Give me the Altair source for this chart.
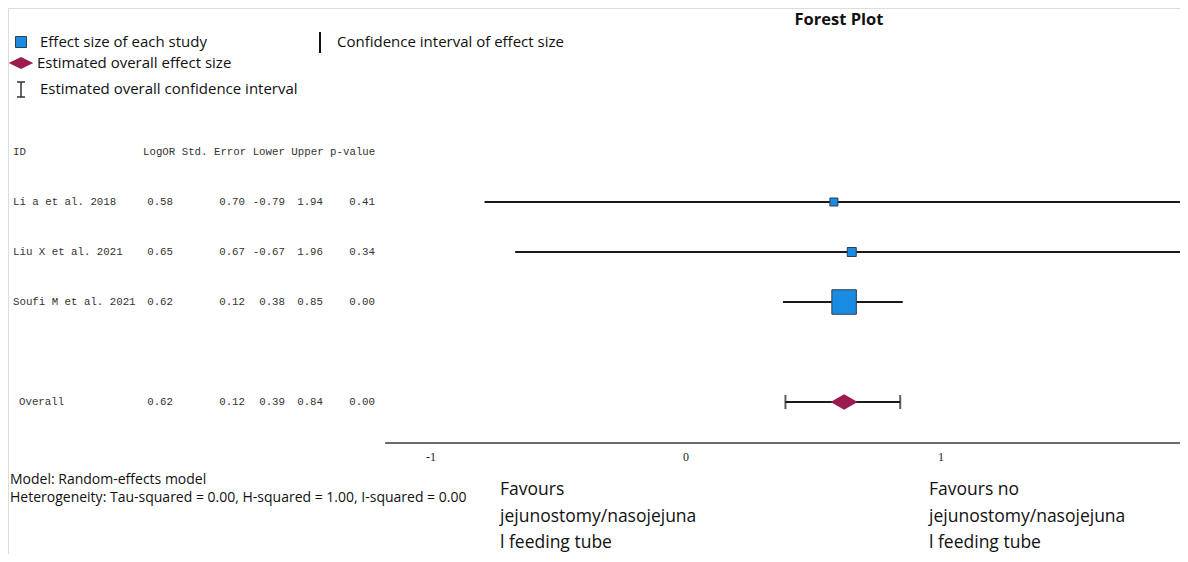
import altair as alt
import pandas as pd

# ---------------- data ----------------
study_ids = ["Li a et al. 2018", "Liu X et al. 2021", "Soufi M et al. 2021"]
log_or = [0.58, 0.65, 0.62]
std_err = [0.70, 0.67, 0.12]
ci_lower = [-0.79, -0.67, 0.38]
ci_upper = [1.94, 1.96, 0.85]
p_values = [0.41, 0.34, 0.00]
study_weight = [64, 81, 600]          # relative marker weight (area) as drawn

overall_label = ["Overall"]
overall_est = [0.62]
overall_se = [0.12]
overall_lower = [0.39]
overall_upper = [0.84]
overall_p = [0.00]

axis_ticks = [-1, 0, 1]
axis_extent = [-1.18, 1.98]

header_text = "LogOR Std. Error Lower Upper p-value"
model_text = "Model: Random-effects model"
hetero_text = "Heterogeneity: Tau-squared = 0.00, H-squared = 1.00, I-squared = 0.00"
favours_left = "Favours\njejunostomy/nasojejuna\nl feeding tube"
favours_right = "Favours no\njejunostomy/nasojejuna\nl feeding tube"

# ---------------- layout / styles ----------------
W, H = 1172, 546
X_SCALE = alt.Scale(domain=[-678 / 255, (W - 678) / 255], nice=False, zero=False)
Y_SCALE = alt.Scale(domain=[-2.88, -2.88 + H / 50], nice=False, zero=False, reverse=True)
MONO = "Liberation Mono"
SANS = "Open Sans"
BLUE = "#1a8be3"
MAROON = "#9b1a50"
SQUARE = "M-1,-1L1,-1L1,1L-1,1Z"
DIAMOND = "M-1,0L0,-0.58L1,0L0,0.58Z"
DIAMOND_LEG = "M-1,0L0,-0.48L1,0L0,0.48Z"

studies = pd.DataFrame({
    "id": study_ids, "est": log_or, "se": std_err, "lo": ci_lower,
    "hi": ci_upper, "p": p_values, "w": study_weight,
    "row": [1, 2, 3],
})
overall = pd.DataFrame({
    "id": overall_label, "est": overall_est, "se": overall_se,
    "lo": overall_lower, "hi": overall_upper, "p": overall_p, "row": [5],
})
table = pd.concat([studies, overall], ignore_index=True)
for col in ["est", "se", "lo", "hi", "p"]:
    table[col + "_s"] = table[col].map(lambda v: f"{v:.2f}")

caps = pd.DataFrame({"x": overall_lower + overall_upper, "row": [5, 5]})
ticks = pd.DataFrame({"t": axis_ticks, "lab": [str(t) for t in axis_ticks]})
one = pd.DataFrame({"k": [0]})

xq = lambda f: alt.X(f, type="quantitative", scale=X_SCALE, axis=None)
yq = alt.Y("row:Q", scale=Y_SCALE, axis=None)

# ---------------- forest marks ----------------
ci = alt.Chart(studies).mark_rule(strokeWidth=2.2, color="#1a1a1a").encode(
    x=xq("lo"), x2="hi", y=yq)
boxes = alt.Chart(studies).mark_point(
    shape=SQUARE, filled=True, fill=BLUE, stroke="#2c3e50", strokeWidth=1, opacity=1
).encode(x=xq("est"), y=yq,
         size=alt.Size("w:Q", scale=alt.Scale(domain=[0, 600], range=[0, 600]), legend=None))
ov_ci = alt.Chart(overall).mark_rule(strokeWidth=2.2, color="#1a1a1a").encode(
    x=xq("lo"), x2="hi", y=yq)
ov_caps = alt.Chart(caps).mark_tick(orient="vertical", size=14, thickness=2, color="#1a1a1a").encode(
    x=xq("x"), y=yq)
diamond = alt.Chart(overall).mark_point(
    shape=DIAMOND, filled=True, fill=MAROON, size=729, opacity=1, strokeWidth=0
).encode(x=xq("est"), y=yq)

axis_line = alt.Chart(one).mark_rule(color="#6b6b6b", strokeWidth=2).encode(
    x=alt.X(datum=axis_extent[0], type="quantitative", scale=X_SCALE, axis=None),
    x2=alt.X2(datum=axis_extent[1]),
    y=alt.value(435))
tick_labels = alt.Chart(ticks).mark_text(
    font="Liberation Serif", fontSize=12, color="#222", baseline="middle", align="center"
).encode(x=xq("t"), y=alt.value(449), text="lab:N")

# ---------------- table ----------------
txt = dict(font=MONO, fontSize=10.75, color="#333", baseline="middle")
col_id = alt.Chart(studies).mark_text(align="left", **txt).encode(
    x=alt.value(5), y=yq, text="id:N")
col_id_ov = alt.Chart(overall).mark_text(align="left", **txt).encode(
    x=alt.value(11), y=yq, text="id:N")
cols = []
for field, right in [("est_s", 165), ("se_s", 237), ("lo_s", 277), ("hi_s", 315), ("p_s", 367)]:
    cols.append(alt.Chart(table).mark_text(align="right", **txt).encode(
        x=alt.value(right), y=yq, text=f"{field}:N"))
hdr = pd.DataFrame({"row": [0, 0], "t": ["ID", header_text], "x": [5, 135]})
header = alt.Chart(hdr).mark_text(align="left", **txt).encode(
    x=alt.X("x:Q", scale=None, axis=None), y=yq, text="t:N")

# ---------------- legend / annotations ----------------
def label(text, x, y, size=14, align="left", weight="normal", font=SANS, **kw):
    return alt.Chart(pd.DataFrame({"t": [text]})).mark_text(
        align=align, baseline="middle", font=font, fontSize=size, fontWeight=weight,
        color="#111", **kw
    ).encode(x=alt.value(x), y=alt.value(y), text="t:N")

leg_sq = alt.Chart(one).mark_point(shape=SQUARE, filled=True, fill=BLUE, stroke="#2c3e50",
                                   strokeWidth=1, size=121, opacity=1).encode(
    x=alt.value(13), y=alt.value(34))
leg_dia = alt.Chart(one).mark_point(shape=DIAMOND_LEG, filled=True, fill=MAROON, size=600,
                                    opacity=1, strokeWidth=0).encode(
    x=alt.value(13), y=alt.value(55))
ibeam_v = alt.Chart(one).mark_rule(color="#333", strokeWidth=1.5).encode(
    x=alt.value(13), y=alt.value(74), y2=alt.value(89))
ibeam_t = alt.Chart(one).mark_rule(color="#333", strokeWidth=1.5).encode(
    x=alt.value(9), x2=alt.value(17), y=alt.value(74))
ibeam_b = alt.Chart(one).mark_rule(color="#333", strokeWidth=1.5).encode(
    x=alt.value(9), x2=alt.value(17), y=alt.value(89))
leg_bar = alt.Chart(one).mark_rule(color="#111", strokeWidth=2).encode(
    x=alt.value(312), y=alt.value(24), y2=alt.value(45))

texts = [
    label("Effect size of each study", 32, 34, size=15),
    label("Estimated overall effect size", 29, 55, size=15),
    label("Estimated overall confidence interval", 32, 81, size=15),
    label("Confidence interval of effect size", 329, 34, size=15),
    label("Forest Plot", 831, 12, size=16.5, align="center", weight="bold"),
    label(model_text, 2, 472, size=14),
    label(hetero_text, 2, 490, size=14),
    label(favours_left, 492, 482, size=17.5, lineBreak="\n", lineHeight=26.5),
    label(favours_right, 921, 482, size=17.5, lineBreak="\n", lineHeight=26.5),
]

chart = alt.layer(
    ci, boxes, ov_ci, ov_caps, diamond, axis_line, tick_labels,
    col_id, col_id_ov, *cols, header,
    leg_sq, leg_dia, ibeam_v, ibeam_t, ibeam_b, leg_bar, *texts,
).properties(
    width=W, height=H, padding=0,
    autosize=alt.AutoSizeParams(type="none"),
).configure_view(stroke=None).configure(background="white")

chart.save("out.html", embed_options={"renderer": "svg", "actions": False})
